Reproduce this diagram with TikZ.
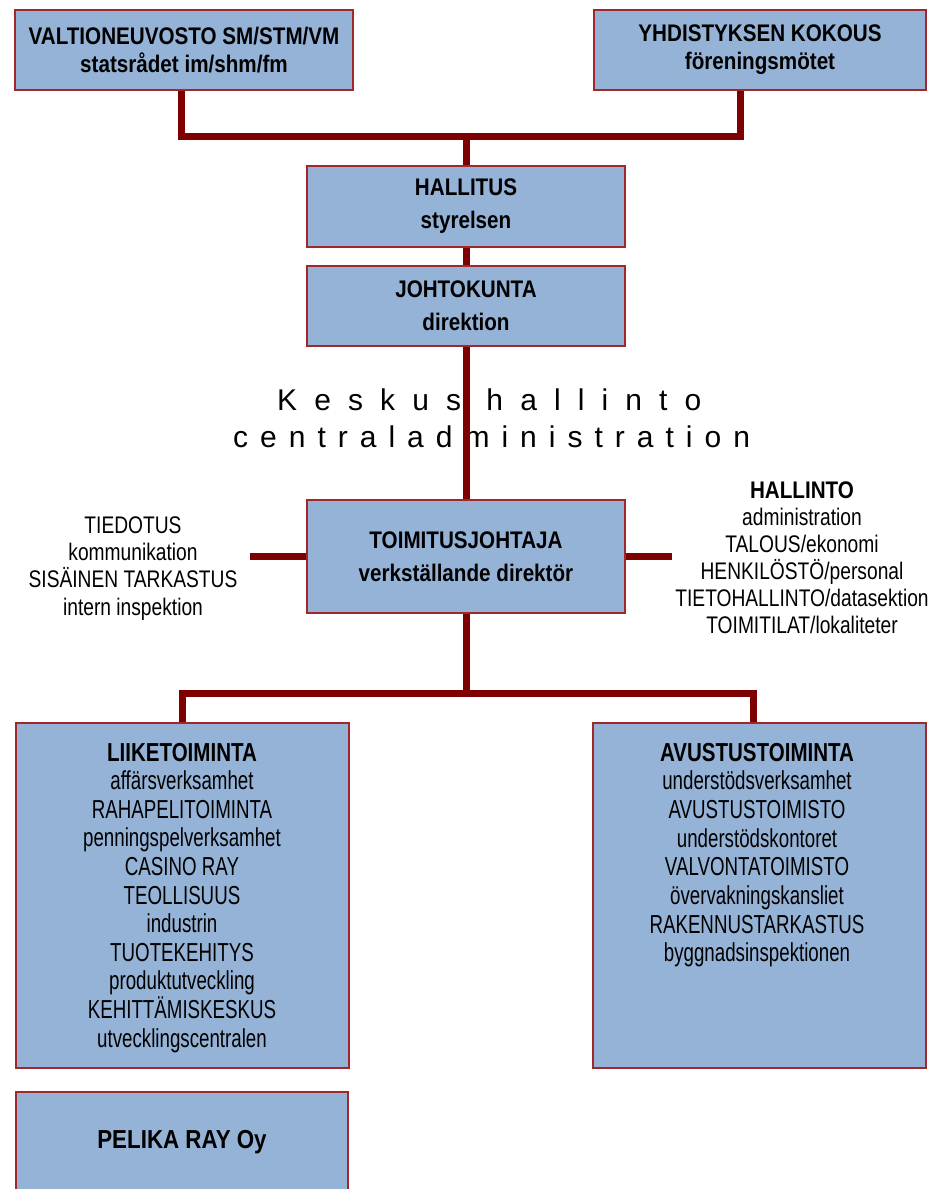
\documentclass[tikz,border=0pt]{standalone}
\usepackage{fontspec}
\setmainfont{Liberation Sans}
\newfontfamily\nreg[FakeStretch=0.8]{Liberation Sans}
\newfontface\nbold[FakeStretch=0.86]{Liberation Sans Bold}
\newfontfamily\nregL[FakeStretch=0.72]{Liberation Sans}
\newfontface\nboldL[FakeStretch=0.79]{Liberation Sans Bold}
\newfontfamily\wideA[LetterSpace=57]{Liberation Sans}
\newfontfamily\wideB[LetterSpace=40]{Liberation Sans}
\definecolor{boxfill}{HTML}{95B3D7}
\definecolor{boxline}{HTML}{A0282D}
\definecolor{connred}{HTML}{7F0000}
\begin{document}
\begin{tikzpicture}[x=1pt,y=-1pt,
  orgbox/.style={draw=boxline, line width=1.2pt, fill=boxfill, inner sep=0pt, align=center,
    font=\nbold\fontsize{24}{33}\selectfont},
  topfont/.style={font=\nbold\fontsize{24}{28}\selectfont},
  connector/.style={draw=connred, line width=7pt, line join=miter},
  listtxt/.style={inner sep=0pt, align=center, anchor=north}]
\useasboundingbox (0,0) rectangle (927,1189);
\fill[white] (0,0) rectangle (927,1189);

% boxes
\node[orgbox, topfont, minimum width=338pt, minimum height=80pt] (valt) at (184,50) {VALTIONEUVOSTO SM/STM/VM\\statsrådet im/shm/fm};
\node[orgbox, topfont, minimum width=332pt, minimum height=80pt] (yhd) at (760,50) {YHDISTYKSEN KOKOUS\\föreningsmötet};
\node[orgbox, minimum width=318pt, minimum height=81pt] (hall) at (466,206.5) {HALLITUS\\styrelsen};
\node[orgbox, minimum width=318pt, minimum height=80pt] (johto) at (466,306) {JOHTOKUNTA\\direktion};
\node[orgbox, minimum width=318pt, minimum height=113pt] (tj) at (466,556.5) {TOIMITUSJOHTAJA\\verkställande direktör};
\node[orgbox, minimum width=333pt, minimum height=345pt] (liike) at (182.5,895.5) {};
\node[orgbox, minimum width=333pt, minimum height=345pt] (avu) at (759.5,895.5) {};
\node[orgbox, minimum width=332pt, minimum height=130pt] (pel) at (182,1157) {};
\node[inner sep=0pt, font=\nbold\fontsize{26}{30}\selectfont] (peltxt) at (182,1142) {PELIKA RAY Oy};

% list texts
\node[listtxt, font=\nregL\fontsize{26}{28.6}\selectfont] (liiketxt) at (182,742.7)
  {{\nboldL LIIKETOIMINTA}\\affärsverksamhet\\RAHAPELITOIMINTA\\penningspelverksamhet\\CASINO RAY\\TEOLLISUUS\\industrin\\TUOTEKEHITYS\\produktutveckling\\KEHITTÄMISKESKUS\\utvecklingscentralen};
\node[listtxt, font=\nregL\fontsize{26}{28.7}\selectfont] (avutxt) at (757,742.7)
  {{\nboldL AVUSTUSTOIMINTA}\\understödsverksamhet\\AVUSTUSTOIMISTO\\understödskontoret\\VALVONTATOIMISTO\\övervakningskansliet\\RAKENNUSTARKASTUS\\byggnadsinspektionen};
\node[listtxt, font=\nreg\fontsize{24}{27.3}\selectfont] (lefttxt) at (133,516.4)
  {TIEDOTUS\\kommunikation\\SISÄINEN TARKASTUS\\intern inspektion};
\node[listtxt, font=\nreg\fontsize{24}{27}\selectfont] (righttxt) at (802,481.4)
  {{\nbold HALLINTO}\\administration\\TALOUS/ekonomi\\HENKILÖSTÖ/personal\\TIETOHALLINTO/datasektion\\TOIMITILAT/lokaliteter};

% central administration label
\node[anchor=base west, inner sep=0pt, font=\wideA\fontsize{30}{36}\selectfont] (kesk) at (277,410) {Keskus hallinto};
\node[anchor=base west, inner sep=0pt, font=\wideB\fontsize{30}{36}\selectfont] (cent) at (233,447) {centraladministration};

% junctions
\coordinate (j1) at (466,136);
\coordinate (j2) at (466,693);
\coordinate (lend) at (250,556.5);
\coordinate (rend) at (672,556.5);

% connectors
\draw[connector] ([xshift=-3pt]valt.south) |- (j1) -| ([xshift=-20pt]yhd.south);
\draw[connector] (j1) -- (hall.north);
\draw[connector] (hall.south) -- (johto.north);
\draw[connector] (johto.south) -- (tj.north);
\draw[connector] (tj.west) -- (lend);
\draw[connector] (tj.east) -- (rend);
\draw[connector] (tj.south) -- (j2);
\draw[connector] (liike.north) |- (j2) -| ([xshift=-6.5pt]avu.north);
\end{tikzpicture}
\end{document}
